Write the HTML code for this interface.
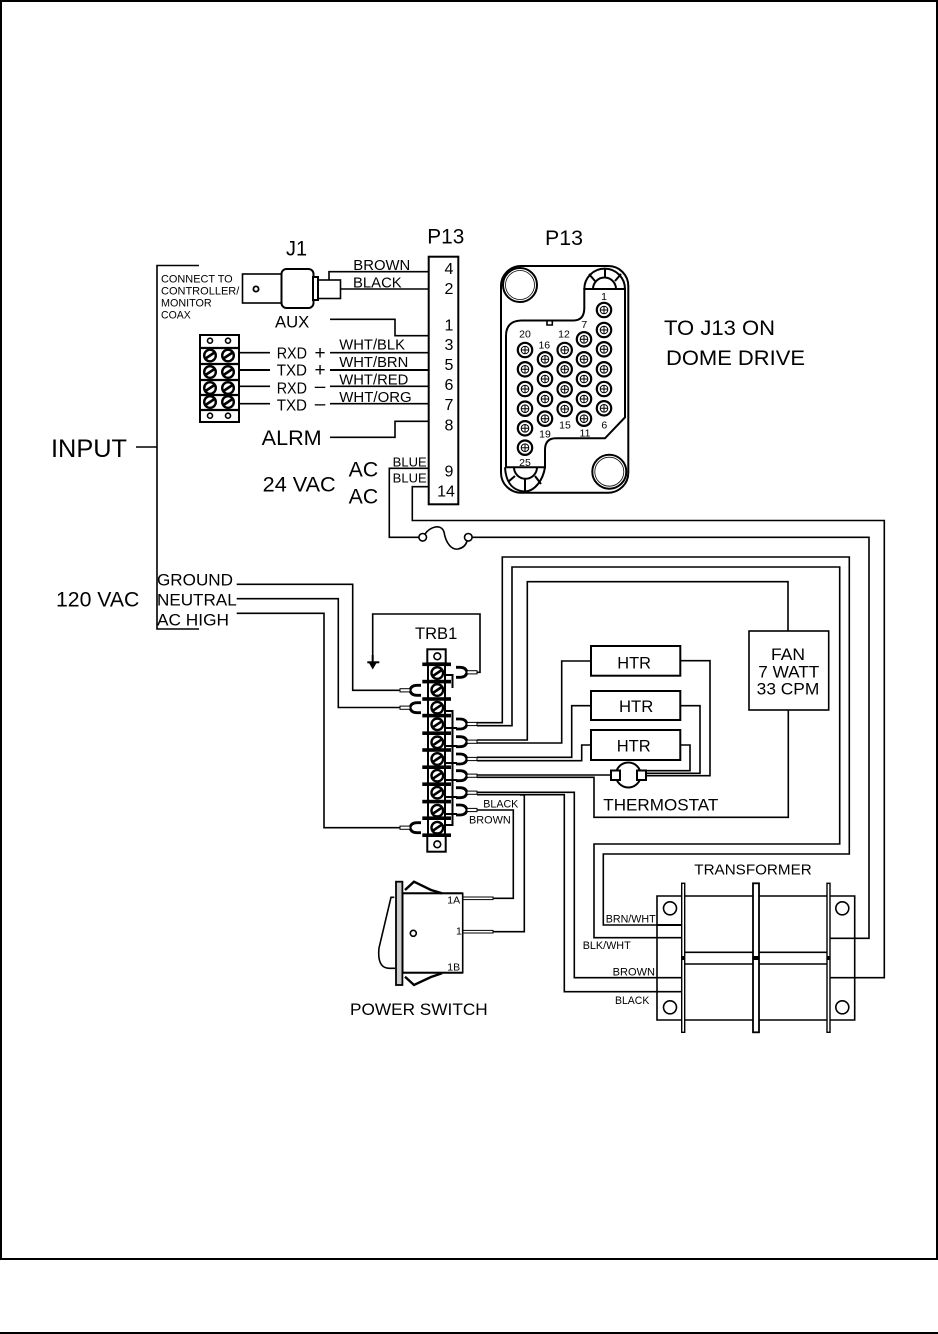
<!DOCTYPE html>
<html><head><meta charset="utf-8"><style>
html,body{margin:0;padding:0;background:#fff}
svg{display:block}
text{font-family:"Liberation Sans",sans-serif;fill:#000}
.w{fill:none;stroke:#000;stroke-width:1.6}
.t{fill:none;stroke:#000;stroke-width:2}
.b{fill:#fff;stroke:#000;stroke-width:2}
</style></head><body>
<svg xmlns="http://www.w3.org/2000/svg" width="938" height="1334" viewBox="0 0 938 1334">
<defs>
<g id="pin"><circle r="7.2" fill="#fff" stroke="#000" stroke-width="2.2"/><circle r="3.8" fill="none" stroke="#000" stroke-width="1"/><path d="M-4 0H4M0 -4V4" stroke="#000" stroke-width="1"/></g>
<g id="scr"><circle r="5.8" fill="#fff" stroke="#000" stroke-width="2.4"/><path d="M-4.5 3L4.5 -3" stroke="#000" stroke-width="2.6"/></g>
<g id="lr"><path d="M456 -5h4q6 0 7 5q-1 5 -7 5h-4" fill="none" stroke="#000" stroke-width="2.8"/><rect x="467" y="-1.6" width="10" height="3.2" fill="#fff" stroke="#000" stroke-width="1"/></g>
<g id="ll"><path d="M421 -5h-4q-6 0 -7 5q1 5 7 5h4" fill="none" stroke="#000" stroke-width="2.8"/><rect x="400" y="-1.6" width="10" height="3.2" fill="#fff" stroke="#000" stroke-width="1"/></g>
</defs>
<rect width="938" height="1334" fill="#fff"/>
<path d="M1 1259V1H937V1259M0 1259H938M0 1333H938" fill="none" stroke="#000" stroke-width="2"/>

<!-- input bracket -->
<path class="w" d="M199 265.5H157V629H199M136 447H157"/>

<!-- J1 -->
<rect class="w" x="242.5" y="274" width="40" height="29"/>
<rect class="b" x="281.5" y="269" width="32" height="39" rx="5"/>
<rect class="b" x="313" y="277" width="5" height="23"/>
<rect class="w" x="318" y="280" width="22.5" height="18.5"/>
<circle cx="256" cy="289" r="2.6" fill="none" stroke="#000" stroke-width="1.8"/>
<path class="w" d="M329 280V271.7H428M340.5 289H428M330 319.3H395V335.7H428M239 352.7H270M330 352.7H428M239 370H270M330 370H428M239 386.3H270M330 386.3H428M239 403.7H270M330 403.7H428M330 437.3H395V421.3H428"/>
<path d="M239 370H270M330 370H428" stroke="#000" stroke-width="2"/>
<rect class="b" x="428.7" y="256.7" width="29.6" height="247.6"/>

<!-- left terminal block -->
<rect class="b" x="200" y="335" width="39" height="87"/>
<path d="M200 348H239M200 364H239M200 380H239M200 395H239M200 410H239" stroke="#000" stroke-width="2.2"/>
<circle cx="210" cy="340.7" r="2.5" class="w"/><circle cx="228" cy="340.7" r="2.5" class="w"/>
<circle cx="210" cy="415.7" r="2.5" class="w"/><circle cx="228" cy="415.7" r="2.5" class="w"/>
<use href="#scr" x="210" y="355.5"/><use href="#scr" x="228" y="355.5"/>
<use href="#scr" x="210" y="372"/><use href="#scr" x="228" y="372"/>
<use href="#scr" x="210" y="388"/><use href="#scr" x="228" y="388"/>
<use href="#scr" x="210" y="402"/><use href="#scr" x="228" y="402"/>

<!-- upper labels -->
<g font-size="21">
<text x="286" y="255.7" textLength="21" lengthAdjust="spacingAndGlyphs">J1</text>
<text x="427.3" y="243.3" textLength="37" lengthAdjust="spacingAndGlyphs">P13</text>
<text x="545" y="245" textLength="38" lengthAdjust="spacingAndGlyphs">P13</text>
<text x="664" y="335" textLength="111" lengthAdjust="spacingAndGlyphs">TO J13 ON</text>
<text x="666" y="365" textLength="139" lengthAdjust="spacingAndGlyphs">DOME DRIVE</text>
<text x="261.7" y="445" textLength="60" lengthAdjust="spacingAndGlyphs">ALRM</text>
<text x="262.7" y="491.7" textLength="73" lengthAdjust="spacingAndGlyphs">24 VAC</text>
<text x="348.7" y="476.7" textLength="29.5" lengthAdjust="spacingAndGlyphs">AC</text>
<text x="348.7" y="503.3" textLength="29.5" lengthAdjust="spacingAndGlyphs">AC</text>
<text x="56" y="606.7" textLength="83.3" lengthAdjust="spacingAndGlyphs">120 VAC</text>
</g>
<text x="51" y="457" font-size="25.3" textLength="76" lengthAdjust="spacingAndGlyphs">INPUT</text>
<g font-size="14.8">
<text x="353.3" y="270" textLength="57" lengthAdjust="spacingAndGlyphs">BROWN</text>
<text x="353" y="287.7" textLength="48.7" lengthAdjust="spacingAndGlyphs">BLACK</text>
<text x="339.3" y="349.3" textLength="65.7" lengthAdjust="spacingAndGlyphs">WHT/BLK</text>
<text x="339.3" y="367" textLength="69" lengthAdjust="spacingAndGlyphs">WHT/BRN</text>
<text x="339.3" y="384.3" textLength="69" lengthAdjust="spacingAndGlyphs">WHT/RED</text>
<text x="339.3" y="402" textLength="72.4" lengthAdjust="spacingAndGlyphs">WHT/ORG</text>
</g>
<text x="275" y="327.7" font-size="16.7" textLength="34.3" lengthAdjust="spacingAndGlyphs">AUX</text>
<g font-size="15.5">
<text x="276.7" y="358.7" textLength="30.3" lengthAdjust="spacingAndGlyphs">RXD</text>
<text x="276.7" y="375.7" textLength="30.3" lengthAdjust="spacingAndGlyphs">TXD</text>
<text x="276.7" y="393.3" textLength="30.3" lengthAdjust="spacingAndGlyphs">RXD</text>
<text x="276.7" y="410.3" textLength="30.3" lengthAdjust="spacingAndGlyphs">TXD</text>
</g>
<g font-size="19" text-anchor="middle">
<text x="320" y="359">+</text>
<text x="320" y="376">+</text>
<text x="320" y="392.5">–</text>
<text x="320" y="410">–</text>
</g>
<g font-size="16" text-anchor="middle">
<text x="449" y="274">4</text>
<text x="449" y="294">2</text>
<text x="449" y="330.7">1</text>
<text x="449" y="350">3</text>
<text x="449" y="370">5</text>
<text x="449" y="390">6</text>
<text x="449" y="410">7</text>
<text x="449" y="430.7">8</text>
<text x="449" y="476.7">9</text>
<text x="446" y="496.7">14</text>
</g>
<g font-size="11.2">
<text x="161" y="282.3" textLength="71.7" lengthAdjust="spacingAndGlyphs">CONNECT TO</text>
<text x="161" y="294.3" textLength="78.3" lengthAdjust="spacingAndGlyphs">CONTROLLER/</text>
<text x="161" y="306.7" textLength="50.7" lengthAdjust="spacingAndGlyphs">MONITOR</text>
<text x="161" y="318.3" textLength="29.7" lengthAdjust="spacingAndGlyphs">COAX</text>
</g>
<g font-size="13">
<text x="392.7" y="466.7" textLength="34" lengthAdjust="spacingAndGlyphs">BLUE</text>
<text x="392.7" y="482.3" textLength="34" lengthAdjust="spacingAndGlyphs">BLUE</text>
</g>

<!-- blue and fuse -->
<path class="w" d="M428 468.3H389.3V537.3H419M428 486.7H412.3V520.5H884.3V977.7H830M472 537.3H869V938.3H830"/>
<circle class="w" cx="422.7" cy="537.3" r="3.8"/><circle class="w" cx="468.3" cy="537.3" r="3.8"/>
<path class="w" d="M425 534C430 527 441 523 444 532C446 544 452 550 458 549C463 548 466 545 467 541"/>

<!-- P13 connector -->
<rect class="t" x="501" y="266" width="127.3" height="226.7" rx="20"/>
<path class="t" stroke-width="1.6" d="M625 289H584.3V308Q584.3 320 574 320.5H521Q506 321 506 336V467.3H545V450Q545 438.3 556 438.3H605L625 417.3V289"/>
<path class="w" d="M547 320.7V325H552.3V320.7"/>
<circle class="t" cx="520" cy="285" r="17"/><circle cx="520" cy="285" r="14.5" fill="none" stroke="#000" stroke-width=".8"/>
<circle class="t" cx="609.3" cy="471.7" r="17"/><circle cx="609.3" cy="471.7" r="14.5" fill="none" stroke="#000" stroke-width=".8"/>
<path class="t" d="M584.3 289A20 20 0 0 1 625 289M593 289A11 11 0 0 1 616 289M605 278V269M595 281L589 274M615 281L621 274"/>
<path class="t" d="M505 467.3C506 485 515 491 525 491.5C535 491 543 480 545 467.3M514 467.3A11 11 0 0 0 537 467.3M525 478V491M515 476L508 482M535 476L541 484"/>
<use href="#pin" x="604" y="310"/><use href="#pin" x="604" y="330"/><use href="#pin" x="604" y="349.3"/><use href="#pin" x="604" y="369.3"/><use href="#pin" x="604" y="389"/><use href="#pin" x="604" y="408.3"/>
<use href="#pin" x="584" y="339.3"/><use href="#pin" x="584" y="359.3"/><use href="#pin" x="584" y="379"/><use href="#pin" x="584" y="399"/><use href="#pin" x="584" y="418.7"/>
<use href="#pin" x="564.7" y="350"/><use href="#pin" x="564.7" y="369.3"/><use href="#pin" x="564.7" y="389.3"/><use href="#pin" x="564.7" y="409"/>
<use href="#pin" x="545" y="359.3"/><use href="#pin" x="545" y="379"/><use href="#pin" x="545" y="399"/><use href="#pin" x="545" y="418.7"/>
<use href="#pin" x="525" y="350"/><use href="#pin" x="525" y="369.3"/><use href="#pin" x="525" y="389"/><use href="#pin" x="525" y="408.7"/><use href="#pin" x="525" y="428.3"/><use href="#pin" x="525" y="447.7"/>
<g font-size="10.5" text-anchor="middle">
<text x="604" y="300">1</text><text x="584.3" y="328">7</text><text x="564" y="337.3">12</text><text x="525" y="337.3">20</text><text x="544.3" y="348.3">16</text><text x="604.3" y="428.3">6</text><text x="585" y="436.7">11</text><text x="565" y="428.3">15</text><text x="545" y="437.3">19</text><text x="525" y="466">25</text>
</g>

<!-- 120 VAC -->
<g font-size="17">
<text x="157" y="585.7" textLength="76" lengthAdjust="spacingAndGlyphs">GROUND</text>
<text x="157" y="605.7" textLength="79.7" lengthAdjust="spacingAndGlyphs">NEUTRAL</text>
<text x="157" y="625.7" textLength="72" lengthAdjust="spacingAndGlyphs">AC HIGH</text>
<text x="415" y="639" font-size="16.5" textLength="42.3" lengthAdjust="spacingAndGlyphs">TRB1</text>
</g>
<path class="w" d="M236.7 584.3H352.7V690.3H400M236.7 598.7H338.3V707.5H400M236.7 613.3H324V827.7H400"/>
<path class="w" d="M372.7 662V614H480V672.3H476.7"/>
<path d="M372.7 655V664" stroke="#000" stroke-width="2"/>
<path d="M367.3 662.3H379.3" stroke="#000" stroke-width="2"/><path d="M369 663L376.5 663L372.7 669.5Z" fill="#000"/>

<!-- main wires -->
<path class="w" d="M477 722.7H502.3V557H849.3V854H603.3V925H681.7"/>
<path class="w" d="M477 725.7H512V567H839.7V844H594V937.7H681.7"/>
<path class="w" d="M477 740H527.3V581.7H788V631"/>
<path class="w" d="M477 743H561.7V661H590.7"/>
<path class="w" d="M477 757.3H571.7V705.7H590.7"/>
<path class="w" d="M477 760.7H581.7V745H590.7"/>
<path class="w" d="M477 775H610"/>
<path class="w" d="M477 777.3H594V817.3H788.3V710"/>
<path class="w" d="M477 792.3H574.3V977.7H681.7"/>
<path class="w" d="M477 794.7H564.3V991.7H681.7"/>
<path class="w" d="M520 795H524.3V931.7H493"/>
<path class="w" d="M477 810H513.3V898.3H493"/>

<!-- TRB1 -->
<rect class="b" x="427.3" y="649.3" width="18.4" height="14"/>
<circle class="w" cx="437.3" cy="656.3" r="3.4" stroke-width="1.8"/>
<rect x="428" y="664" width="17" height="172" fill="#fff" stroke="#000" stroke-width="2"/>
<rect class="b" x="427.3" y="836" width="18.4" height="15.7"/>
<circle class="w" cx="437.3" cy="844.3" r="3.4" stroke-width="1.8"/>
<path d="M446 675H452.5V688M446 711H452.5V825H446M446 728H457M446 746H457M446 763H457M446 780H457M446 797H457M446 814H457" fill="none" stroke="#000" stroke-width="2"/>
<g fill="#000">
<rect x="422.3" y="662.5" width="28.7" height="3.6"/><rect x="422.3" y="679.8" width="28.7" height="3.6"/><rect x="422.3" y="697.2" width="28.7" height="3.6"/><rect x="422.3" y="713.8" width="28.7" height="3.6"/><rect x="422.3" y="731.4" width="28.7" height="3.6"/><rect x="422.3" y="748.2" width="28.7" height="3.6"/><rect x="422.3" y="765.4" width="28.7" height="3.6"/><rect x="422.3" y="782.4" width="28.7" height="3.6"/><rect x="422.3" y="799.8" width="28.7" height="3.6"/><rect x="422.3" y="816.4" width="28.7" height="3.6"/><rect x="422.3" y="833.4" width="28.7" height="3.6"/>
</g>
<use href="#scr" x="437.3" y="673"/><use href="#scr" x="437.3" y="690"/><use href="#scr" x="437.3" y="707.7"/><use href="#scr" x="437.3" y="724.3"/><use href="#scr" x="437.3" y="742.3"/><use href="#scr" x="437.3" y="759"/><use href="#scr" x="437.3" y="775.7"/><use href="#scr" x="437.3" y="792.7"/><use href="#scr" x="437.3" y="810.7"/><use href="#scr" x="437.3" y="827.7"/>
<use href="#lr" y="672.3"/><use href="#lr" y="724"/><use href="#lr" y="741.7"/><use href="#lr" y="759"/><use href="#lr" y="775.7"/><use href="#lr" y="792.7"/><use href="#lr" y="810"/>
<use href="#ll" y="690.3"/><use href="#ll" y="707.7"/><use href="#ll" y="827.7"/>
<g font-size="11">
<text x="483.3" y="807.3" textLength="35" lengthAdjust="spacingAndGlyphs">BLACK</text>
<text x="469" y="823.7" textLength="41.7" lengthAdjust="spacingAndGlyphs">BROWN</text>
</g>

<!-- heaters / fan / thermostat -->
<path class="w" d="M680.3 660.7H710V775.7H646M680.3 705.7H700V773.3H646M680.3 745H690V770.7H646"/>
<rect class="b" x="591" y="646" width="89.3" height="29.7"/>
<rect class="b" x="591" y="691" width="89.3" height="29"/>
<rect class="b" x="591" y="730" width="89.3" height="30"/>
<rect class="w" x="749" y="631" width="79.7" height="79"/>
<g font-size="16.6">
<text x="617.3" y="668.3" textLength="33.7" lengthAdjust="spacingAndGlyphs">HTR</text>
<text x="619" y="712" textLength="34.3" lengthAdjust="spacingAndGlyphs">HTR</text>
<text x="616.7" y="751.7" textLength="34" lengthAdjust="spacingAndGlyphs">HTR</text>
<text x="771" y="660" textLength="34" lengthAdjust="spacingAndGlyphs">FAN</text>
<text x="758.3" y="677.7" textLength="61" lengthAdjust="spacingAndGlyphs">7 WATT</text>
<text x="756.7" y="694.3" textLength="62.6" lengthAdjust="spacingAndGlyphs">33 CPM</text>
</g>
<circle cx="628.3" cy="775" r="12.5" fill="#fff" stroke="#000" stroke-width="2"/>
<rect class="b" x="611" y="770.5" width="9" height="9.5"/>
<rect class="b" x="637" y="770.5" width="9" height="9.5"/>
<text x="603.3" y="810.7" font-size="16.6" textLength="115" lengthAdjust="spacingAndGlyphs">THERMOSTAT</text>

<!-- transformer -->
<path class="w" d="M657 896H854.7V1020H657Z"/>
<path d="M657 925H682" stroke="#000" stroke-width="2"/>
<path class="w" d="M684 952.3H827M684 964H827"/>
<circle class="w" cx="670" cy="908.3" r="6.5" stroke-width="2"/><circle class="w" cx="842.3" cy="908.3" r="6.5" stroke-width="2"/>
<circle class="w" cx="670" cy="1007.3" r="6.5" stroke-width="2"/><circle class="w" cx="842.3" cy="1007.3" r="6.5" stroke-width="2"/>
<rect x="681.7" y="883.3" width="3" height="149" fill="#fff" stroke="#000" stroke-width="1.4"/>
<rect x="753" y="883.3" width="6" height="149" fill="#fff" stroke="#000" stroke-width="1.8"/>
<rect x="827" y="883.3" width="3" height="149" fill="#fff" stroke="#000" stroke-width="1.4"/>
<rect x="681.5" y="956" width="3.4" height="4" fill="#000"/><rect x="752.5" y="956" width="7" height="4" fill="#000"/><rect x="827" y="956" width="3.4" height="4" fill="#000"/>
<text x="694.3" y="874.3" font-size="15" textLength="117.4" lengthAdjust="spacingAndGlyphs">TRANSFORMER</text>
<g font-size="10.8">
<text x="605.7" y="922.7" textLength="50" lengthAdjust="spacingAndGlyphs">BRN/WHT</text>
<text x="582.7" y="949" textLength="48" lengthAdjust="spacingAndGlyphs">BLK/WHT</text>
<text x="612.7" y="975.3" textLength="42.3" lengthAdjust="spacingAndGlyphs">BROWN</text>
<text x="615" y="1004" textLength="34.3" lengthAdjust="spacingAndGlyphs">BLACK</text>
</g>

<!-- power switch -->
<rect class="w" x="402.7" y="893.3" width="60" height="79.4"/>
<path d="M402.7 893.3H462.7M402.7 972.7H462.7" stroke="#000" stroke-width="2"/>
<rect x="396" y="881.7" width="6.4" height="103.3" fill="#ccc" stroke="#000" stroke-width="1.8"/>
<path class="w" d="M394.3 897.3H391L379 948Q377 968 389 968.3H395"/>
<path d="M405 890L414 881.7L431 890L442 893.3M405 976.7L414 985L431 977L442 973.3" fill="none" stroke="#000" stroke-width="2.4"/>
<circle class="w" cx="413.3" cy="933.3" r="3" stroke-width="2"/>
<g fill="#fff" stroke="#000" stroke-width="1">
<rect x="463" y="897" width="30" height="2.6"/><rect x="463" y="930.4" width="30" height="2.6"/>
</g>
<g font-size="10.5">
<text x="447.3" y="903.3">1A</text><text x="456" y="934.3">1</text><text x="447.3" y="970.3">1B</text>
</g>
<text x="350" y="1015" font-size="16.5" textLength="137.7" lengthAdjust="spacingAndGlyphs">POWER SWITCH</text>
</svg>
</body></html>
